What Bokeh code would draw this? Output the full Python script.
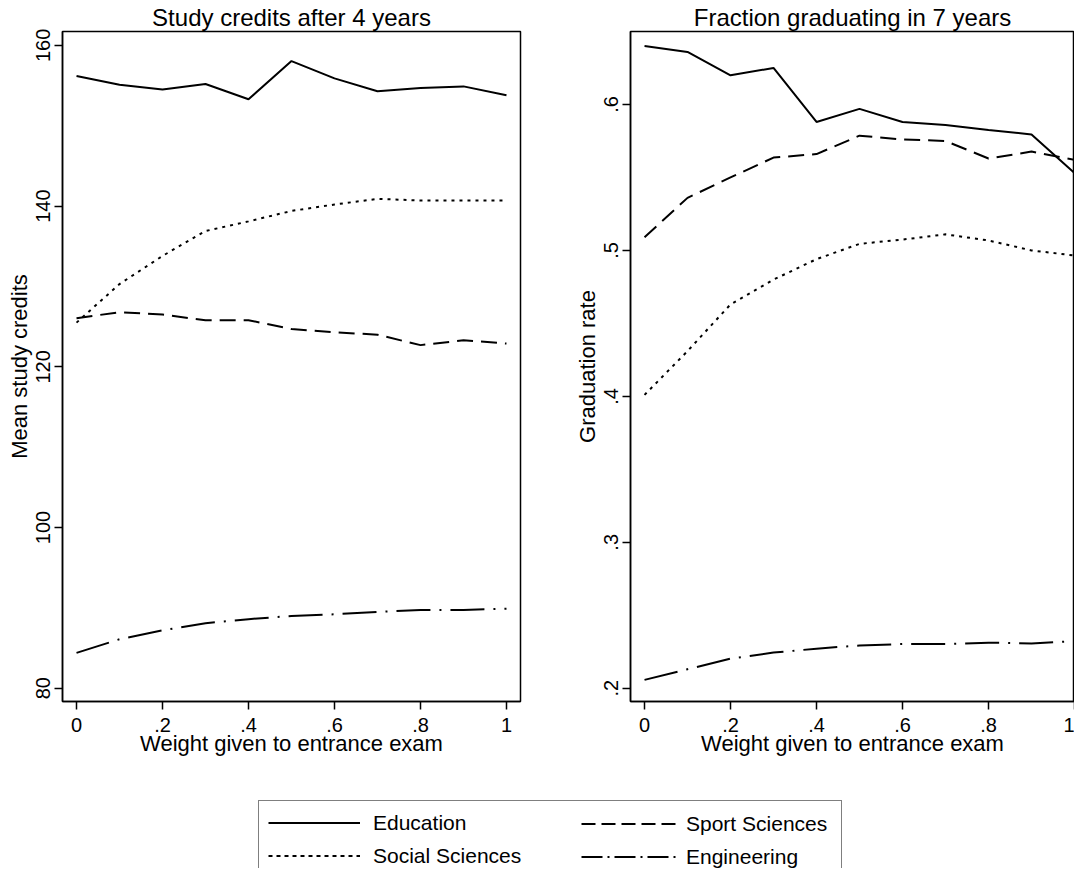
from bokeh.plotting import figure
from bokeh.models import FixedTicker, Legend, LegendItem, Range1d
from bokeh.layouts import column, row
from bokeh.embed import file_html
from bokeh.resources import INLINE

# ---------------- data ----------------
weights = [0.0, 0.1, 0.2, 0.3, 0.4, 0.5, 0.6, 0.7, 0.8, 0.9, 1.0]

credits_education = [156.2, 155.1, 154.5, 155.2, 153.3, 158.05, 155.9, 154.3, 154.7, 154.9, 153.8]
credits_social = [125.5, 130.3, 133.8, 136.9, 138.1, 139.4, 140.2, 140.9, 140.7, 140.7, 140.7]
credits_sport = [126.05, 126.8, 126.5, 125.8, 125.8, 124.7, 124.3, 124.0, 122.7, 123.3, 122.9]
credits_engineering = [84.4, 86.1, 87.2, 88.1, 88.6, 89.0, 89.2, 89.5, 89.75, 89.75, 89.9]

grad_education = [0.640, 0.636, 0.620, 0.625, 0.588, 0.597, 0.588, 0.586, 0.5825, 0.5795, 0.553]
grad_sport = [0.509, 0.536, 0.550, 0.5636, 0.566, 0.5786, 0.576, 0.575, 0.563, 0.5677, 0.562]
grad_social = [0.401, 0.431, 0.463, 0.480, 0.494, 0.5045, 0.5074, 0.511, 0.5068, 0.500, 0.4965]
grad_engineering = [0.2057, 0.213, 0.2203, 0.2244, 0.2271, 0.2293, 0.2303, 0.2303, 0.2312, 0.2307, 0.2323]

x_ticks = [0, 0.2, 0.4, 0.6, 0.8, 1]
x_tick_labels = ["0", ".2", ".4", ".6", ".8", "1"]
credit_ticks = [80, 100, 120, 140, 160]
credit_tick_labels = ["80", "100", "120", "140", "160"]
grad_ticks = [0.2, 0.3, 0.4, 0.5, 0.6]
grad_tick_labels = [".2", ".3", ".4", ".5", ".6"]

series_names = ["Education", "Social Sciences", "Sport Sciences", "Engineering"]

# ---------------- styles ----------------
FONT = "Liberation Sans"
DASH = {"Education": "solid", "Social Sciences": "3 5", "Sport Sciences": "16 8",
        "Engineering": "34 9 2 9"}
LEGEND_DASH = {"Education": "solid", "Social Sciences": "4 4", "Sport Sciences": "14 6",
               "Engineering": "21 5 2 5"}


def style(p, ticks, labels, ylabel, title):
    p.title.text = title
    p.title.text_font = FONT
    p.title.text_font_size = "24px"
    p.title.text_font_style = "normal"
    p.title.text_color = "black"
    p.title.align = "center"
    p.title.standoff = 2
    p.grid.visible = False
    p.outline_line_color = "black"
    p.outline_line_width = 1.5
    p.background_fill_color = "white"
    p.border_fill_color = "white"
    for ax in (p.xaxis[0], p.yaxis[0]):
        ax.axis_line_width = 1.5
        ax.major_tick_line_width = 1.5
        ax.major_tick_out = 8
        ax.major_tick_in = 0
        ax.minor_tick_line_color = None
        ax.major_label_text_font = FONT
        ax.major_label_text_font_size = "20px"
        ax.major_label_text_color = "black"
        ax.axis_label_text_font = FONT
        ax.axis_label_text_font_size = "22px"
        ax.axis_label_text_font_style = "normal"
        ax.axis_label_text_color = "black"
    p.xaxis.ticker = FixedTicker(ticks=x_ticks)
    p.xaxis.major_label_overrides = dict(zip(x_ticks, x_tick_labels))
    p.xaxis.axis_label = "Weight given to entrance exam"
    p.xaxis.major_label_standoff = 8
    p.xaxis.axis_label_standoff = -4
    p.yaxis.ticker = FixedTicker(ticks=ticks)
    p.yaxis.major_label_overrides = dict(zip(ticks, labels))
    p.yaxis.major_label_orientation = "vertical"
    p.yaxis.axis_label = ylabel
    p.yaxis.major_label_standoff = 4
    p.yaxis.axis_label_standoff = 2


p1 = figure(width=537, height=772, x_range=Range1d(-0.0326, 1.0326), y_range=Range1d(78.35, 161.73),
            output_backend="svg", toolbar_location=None,
            min_border_left=62, min_border_right=17, min_border_top=28, min_border_bottom=71)
style(p1, credit_ticks, credit_tick_labels, "Mean study credits", "Study credits after 4 years")
for name, ys in zip(series_names, [credits_education, credits_social, credits_sport, credits_engineering]):
    p1.line(weights, ys, line_color="black", line_width=2, line_dash=DASH[name])

p2 = figure(width=537, height=772, x_range=Range1d(-0.0326, 1.0), y_range=Range1d(0.1909, 0.6500),
            output_backend="svg", toolbar_location=None,
            min_border_left=93, min_border_right=0, min_border_top=28, min_border_bottom=71)
style(p2, grad_ticks, grad_tick_labels, "Graduation rate", "Fraction graduating in 7 years")
for name, ys in zip(series_names, [grad_education, grad_social, grad_sport, grad_engineering]):
    p2.line(weights, ys, line_color="black", line_width=2, line_dash=DASH[name])

# ---------------- legend panel ----------------
# stub renderers carry real series values that fall outside this panel's (0, 1) y-range,
# so only their legend samples are visible
pl = figure(width=1074, height=96, x_range=Range1d(0, 1), y_range=Range1d(0, 1),
            output_backend="svg", toolbar_location=None,
            x_axis_location=None, y_axis_location=None, min_border=0)
pl.grid.visible = False
pl.outline_line_color = None
pl.background_fill_color = "white"
pl.border_fill_color = "white"
stub_values = {"Education": credits_education, "Social Sciences": credits_social,
               "Sport Sciences": credits_sport, "Engineering": credits_engineering}
stubs = {}
for name in series_names:
    stubs[name] = pl.line(weights, stub_values[name], line_color="black", line_width=2,
                          line_dash=LEGEND_DASH[name])

common = dict(margin=0, spacing=8, label_text_font=FONT, label_text_font_size="21px",
              label_text_color="black", label_height=25, glyph_height=25)
legA = Legend(items=[LegendItem(label="Education", renderers=[stubs["Education"]]),
                     LegendItem(label="Social Sciences", renderers=[stubs["Social Sciences"]])],
              location=(258, -10), padding=9, glyph_width=92, label_standoff=13, label_width=459,
              border_line_color="black", border_line_width=1, background_fill_color="white",
              background_fill_alpha=1, **common)
legB = Legend(items=[LegendItem(label="Sport Sciences", renderers=[stubs["Sport Sciences"]]),
                     LegendItem(label="Engineering", renderers=[stubs["Engineering"]])],
              location=(581, -1), padding=0, glyph_width=97, label_standoff=8,
              border_line_color=None, background_fill_alpha=0, **common)
pl.add_layout(legA)
pl.add_layout(legB)

layout = column(row(p1, p2, spacing=0), pl, spacing=0)
open("out.html", "w").write(file_html(layout, INLINE))
